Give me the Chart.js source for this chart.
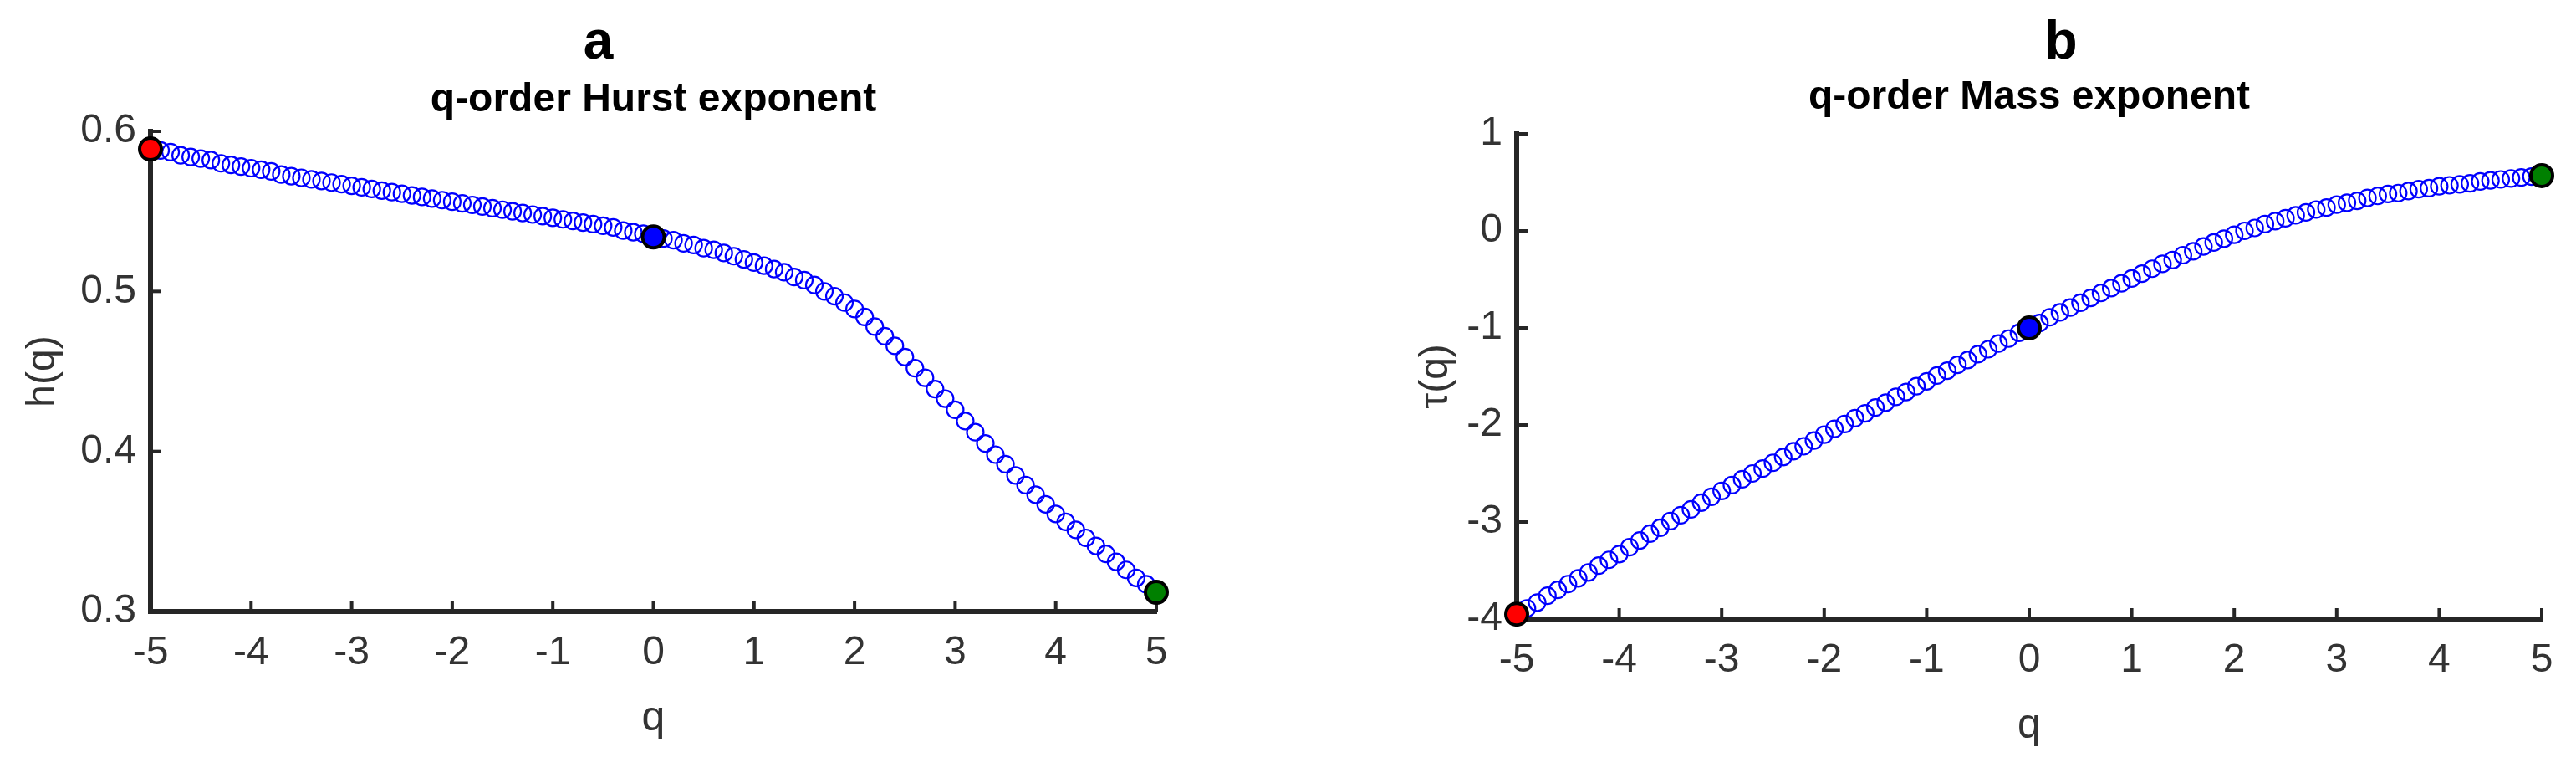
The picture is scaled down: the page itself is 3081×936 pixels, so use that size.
<!DOCTYPE html>
<html>
<head>
<meta charset="utf-8">
<script src="https://cdn.jsdelivr.net/npm/chart.js@4.4.1/dist/chart.umd.min.js"></script>
<style>
  html, body { margin: 0; padding: 0; background: #fff; }
  body { width: 3081px; height: 936px; position: relative; overflow: hidden; }
  .panel { position: absolute; top: 0; height: 936px; }
  #panelA { left: 0; width: 1540px; }
  #panelB { left: 1540px; width: 1541px; }
</style>
</head>
<body>
<div class="panel" id="panelA"><canvas id="hurstChart"></canvas></div>
<div class="panel" id="panelB"><canvas id="massChart"></canvas></div>
<script>
// q grid
const qValues = [
  -5, -4.9, -4.8, -4.7, -4.6, -4.5, -4.4, -4.3, -4.2, -4.1,
  -4, -3.9, -3.8, -3.7, -3.6, -3.5, -3.4, -3.3, -3.2, -3.1,
  -3, -2.9, -2.8, -2.7, -2.6, -2.5, -2.4, -2.3, -2.2, -2.1,
  -2, -1.9, -1.8, -1.7, -1.6, -1.5, -1.4, -1.3, -1.2, -1.1,
  -1, -0.9, -0.8, -0.7, -0.6, -0.5, -0.4, -0.3, -0.2, -0.1,
  0, 0.1, 0.2, 0.3, 0.4, 0.5, 0.6, 0.7, 0.8, 0.9,
  1, 1.1, 1.2, 1.3, 1.4, 1.5, 1.6, 1.7, 1.8, 1.9,
  2, 2.1, 2.2, 2.3, 2.4, 2.5, 2.6, 2.7, 2.8, 2.9,
  3, 3.1, 3.2, 3.3, 3.4, 3.5, 3.6, 3.7, 3.8, 3.9,
  4, 4.1, 4.2, 4.3, 4.4, 4.5, 4.6, 4.7, 4.8, 4.9,
  5,
];

// h(q), q-order Hurst exponent
const hValues = [
  0.589, 0.588, 0.587, 0.585, 0.584, 0.583, 0.582, 0.580, 0.579, 0.578,
  0.577, 0.576, 0.575, 0.573, 0.572, 0.571, 0.570, 0.569, 0.568, 0.567,
  0.566, 0.565, 0.564, 0.563, 0.562, 0.561, 0.560, 0.559, 0.558, 0.557,
  0.556, 0.555, 0.554, 0.553, 0.552, 0.551, 0.550, 0.549, 0.548, 0.547,
  0.546, 0.545, 0.544, 0.543, 0.542, 0.541, 0.540, 0.538, 0.537, 0.536,
  0.534, 0.533, 0.532, 0.530, 0.529, 0.527, 0.526, 0.524, 0.522, 0.520,
  0.518, 0.516, 0.514, 0.512, 0.509, 0.507, 0.504, 0.500, 0.497, 0.493,
  0.489, 0.484, 0.478, 0.472, 0.466, 0.459, 0.452, 0.446, 0.439, 0.433,
  0.426, 0.419, 0.412, 0.405, 0.398, 0.392, 0.385, 0.379, 0.373, 0.367,
  0.361, 0.356, 0.351, 0.346, 0.341, 0.336, 0.331, 0.326, 0.321, 0.317,
  0.312,
];

// tau(q), q-order mass exponent
const tauValues = [
  -3.95, -3.89, -3.83, -3.76, -3.70, -3.64, -3.58, -3.52, -3.45, -3.39,
  -3.33, -3.26, -3.19, -3.12, -3.06, -2.99, -2.93, -2.87, -2.80, -2.74,
  -2.68, -2.62, -2.56, -2.50, -2.45, -2.39, -2.33, -2.27, -2.22, -2.16,
  -2.10, -2.04, -1.99, -1.93, -1.88, -1.82, -1.77, -1.71, -1.66, -1.60,
  -1.55, -1.49, -1.44, -1.38, -1.33, -1.27, -1.22, -1.16, -1.11, -1.05,
  -1.00, -0.95, -0.89, -0.84, -0.79, -0.74, -0.69, -0.64, -0.59, -0.54,
  -0.49, -0.44, -0.39, -0.34, -0.30, -0.25, -0.21, -0.16, -0.12, -0.08,
  -0.04, 0.00, 0.03, 0.07, 0.10, 0.13, 0.16, 0.19, 0.22, 0.24,
  0.27, 0.29, 0.31, 0.34, 0.36, 0.38, 0.39, 0.41, 0.43, 0.44,
  0.46, 0.47, 0.48, 0.49, 0.51, 0.52, 0.53, 0.54, 0.55, 0.56,
  0.57,
];

// highlighted points (q_min, q=0, q_max)
const markQ = [-5, 0, 5];
const markColors = ["#ff0000", "#0000ff", "#008000"];

const qTicks = [-5, -4, -3, -2, -1, 0, 1, 2, 3, 4, 5];
const hTicks = [0.3, 0.4, 0.5, 0.6];
const tauTicks = [-4, -3, -2, -1, 0, 1];

Chart.defaults.font.family = "'Liberation Sans', Arial, sans-serif";
Chart.defaults.color = "#333";

const axisColor = "#262626";

// MATLAB style ticks pointing into the axes
const inwardTicks = {
  id: "inwardTicks",
  beforeDatasetsDraw(chart) {
    const { ctx, chartArea, scales } = chart;
    ctx.save();
    ctx.strokeStyle = axisColor;
    ctx.lineWidth = 4;
    scales.x.ticks.forEach((t) => {
      const px = scales.x.getPixelForValue(t.value);
      ctx.beginPath();
      ctx.moveTo(px, chartArea.bottom);
      ctx.lineTo(px, chartArea.bottom - 13);
      ctx.stroke();
    });
    scales.y.ticks.forEach((t) => {
      const py = scales.y.getPixelForValue(t.value);
      ctx.beginPath();
      ctx.moveTo(chartArea.left, py);
      ctx.lineTo(chartArea.left + 13, py);
      ctx.stroke();
    });
    ctx.restore();
  },
};

// panel letter + title above the axes
const panelTitles = {
  id: "panelTitles",
  afterDraw(chart, args, opts) {
    const { ctx, chartArea } = chart;
    const cx = (chartArea.left + chartArea.right) / 2;
    ctx.save();
    ctx.fillStyle = "#000";
    ctx.textAlign = "center";
    ctx.textBaseline = "alphabetic";
    ctx.font = "bold 64px 'Liberation Sans', Arial, sans-serif";
    ctx.fillText(opts.letter, cx + opts.letterDx, opts.letterY);
    ctx.font = "bold 48px 'Liberation Sans', Arial, sans-serif";
    ctx.fillText(opts.text, cx, opts.textY);
    ctx.restore();
  },
};

function makePanel(id, values, yTicks, yFmt, yTitle, cfg) {
  const ctx = document.getElementById(id).getContext("2d");
  return new Chart(ctx, {
    type: "scatter",
    data: {
      datasets: [
        {
          data: markQ.map((q) => ({ x: q, y: values[qValues.indexOf(q)] })),
          pointRadius: 13,
          pointBackgroundColor: markColors,
          pointBorderColor: "#000",
          pointBorderWidth: 4,
          showLine: false,
          clip: false,
        },
        {
          data: qValues.map((q, i) => ({ x: q, y: values[i] })),
          pointRadius: 10,
          pointBackgroundColor: "rgba(0,0,0,0)",
          pointBorderColor: "#0000ff",
          pointBorderWidth: 2.2,
          showLine: false,
          clip: false,
        },
      ],
    },
    options: {
      responsive: true,
      maintainAspectRatio: false,
      animation: false,
      events: [],
      layout: {
        autoPadding: false,
        padding: { top: cfg.top, right: cfg.right, left: 0, bottom: 0 },
      },
      plugins: {
        legend: { display: false },
        tooltip: { enabled: false },
        panelTitles: cfg.titles,
      },
      scales: {
        x: {
          type: "linear",
          min: -5,
          max: 5,
          afterBuildTicks: (s) => { s.ticks = qTicks.map((v) => ({ value: v })); },
          afterFit: (s) => { s.height = cfg.xHeight; },
          grid: { drawOnChartArea: false, drawTicks: false },
          border: { color: axisColor, width: 6 },
          ticks: { color: "#333", padding: 21, font: { size: 48 }, callback: (v) => String(v) },
          title: { display: true, text: "q", color: "#333", font: { size: 50 }, padding: { bottom: cfg.qPad } },
        },
        y: {
          type: "linear",
          min: yTicks[0],
          max: yTicks[yTicks.length - 1],
          afterBuildTicks: (s) => { s.ticks = yTicks.map((v) => ({ value: v })); },
          afterFit: (s) => { s.width = cfg.yWidth; },
          grid: { drawOnChartArea: false, drawTicks: false },
          border: { color: axisColor, width: 6 },
          ticks: { color: "#333", padding: 17, font: { size: 48 }, callback: yFmt },
          title: { display: true, text: yTitle, color: "#333", font: { size: 48 }, padding: { top: cfg.yTitlePad } },
        },
      },
    },
    plugins: [inwardTicks, panelTitles],
  });
}

makePanel("hurstChart", hValues, hTicks, (v) => v.toFixed(1), "h(q)", {
  top: 157,
  right: 157,
  xHeight: 205,
  yWidth: 180,
  qPad: 47,
  yTitlePad: 23,
  titles: { letter: "a", letterDx: -66, letterY: 70, text: "q-order Hurst exponent", textY: 133 },
});

makePanel("massChart", tauValues, tauTicks, (v) => String(v), "τ(q)", {
  top: 160,
  right: 41,
  xHeight: 196,
  yWidth: 274,
  qPad: 38,
  yTitlePad: 149,
  titles: { letter: "b", letterDx: 38, letterY: 70, text: "q-order Mass exponent", textY: 130 },
});
</script>
</body>
</html>
